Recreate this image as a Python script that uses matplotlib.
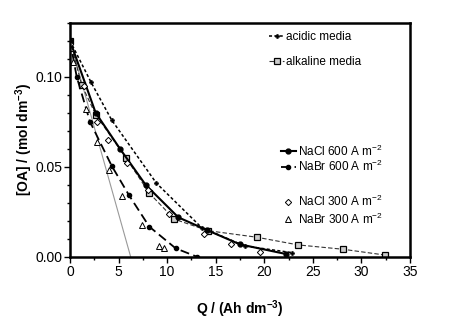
import matplotlib
matplotlib.use("Agg")
import matplotlib.pyplot as plt
from matplotlib.ticker import MultipleLocator

plt.rcParams['font.family'] = ['Liberation Sans', 'DejaVu Sans']
plt.rcParams['mathtext.fontset'] = 'custom'
plt.rcParams['mathtext.rm'] = 'Liberation Sans'
plt.rcParams['mathtext.bf'] = 'Liberation Sans:bold'

# ---- data ----
acid_x = [0, 2.16, 4.29, 8.89, 13.55, 18.0, 22.9]
acid_y = [0.120, 0.097, 0.076, 0.041, 0.0163, 0.0061, 0.0024]

alk_x = [0, 1.2, 2.64, 5.76, 8.17, 10.74, 14.2, 19.2, 23.5, 28.1, 32.4]
alk_y = [0.120, 0.0955, 0.079, 0.055, 0.0354, 0.021, 0.0146, 0.0110, 0.0067, 0.0043, 0.0011]

nacl600_x = [0, 2.64, 5.15, 7.79, 11.15, 14.07, 17.5, 22.2]
nacl600_y = [0.120, 0.080, 0.060, 0.040, 0.022, 0.015, 0.007, 0.0017]

nabr600_x = [0, 0.69, 2.06, 4.29, 6.07, 8.17, 10.88, 13.04]
nabr600_y = [0.120, 0.100, 0.075, 0.0506, 0.0343, 0.0168, 0.0048, 0.0002]

nacl300_x = [0, 1.44, 2.8, 3.95, 5.9, 8.0, 10.2, 13.8, 16.6, 19.6]
nacl300_y = [0.118, 0.095, 0.075, 0.065, 0.052, 0.037, 0.0237, 0.013, 0.007, 0.0026]

nabr300_x = [0, 0.34, 1.65, 2.75, 4.05, 5.39, 7.38, 9.16, 9.68]
nabr300_y = [0.116, 0.108, 0.082, 0.064, 0.048, 0.034, 0.018, 0.0063, 0.0048]

fit_x = [0, 6.25]
fit_y = [0.120, 0.0]

xticks = [0, 5, 10, 15, 20, 25, 30, 35]
yticks = [0.00, 0.05, 0.10]

fig = plt.figure(figsize=(4.5, 3.21), dpi=100)
ax = fig.add_axes([70/450, 1-257/321, 340/450, 234.3/321])

ax.plot(fit_x, fit_y, color='#999999', lw=0.8, zorder=1)
l_acid, = ax.plot(acid_x, acid_y, ls=(0, (2, 1.5)), color='black', lw=1.1,
                  marker='P', ms=3, mfc='black', mec='black', mew=0.4, label='acidic media')
l_alk, = ax.plot(alk_x, alk_y, ls=(0, (4, 2)), color='#333333', lw=0.8,
                 marker='s', ms=4, mfc='#cccccc', mec='black', mew=0.9, label='alkaline media')
l_nacl6, = ax.plot(nacl600_x, nacl600_y, ls='-', color='black', lw=1.5,
                   marker='o', ms=3.5, mfc='black', mec='black', label='NaCl 600 A m$^{-2}$')
l_nabr6, = ax.plot(nabr600_x, nabr600_y, ls=(0, (5, 2.5)), color='black', lw=1.3,
                   marker='o', ms=3, mfc='black', mec='black', label='NaBr 600 A m$^{-2}$')
l_nacl3, = ax.plot(nacl300_x, nacl300_y, ls='none', marker='D', ms=3.2,
                   mfc='white', mec='black', mew=0.7, label='NaCl 300 A m$^{-2}$')
l_nabr3, = ax.plot(nabr300_x, nabr300_y, ls='none', marker='^', ms=4,
                   mfc='white', mec='black', mew=0.7, label='NaBr 300 A m$^{-2}$')

ax.set_xlim(0, 35)
ax.set_ylim(0, 0.130)
ax.set_xticks(xticks)
ax.set_yticks(yticks)
ax.set_yticklabels([f"{v:.2f}" for v in yticks])
ax.xaxis.set_minor_locator(MultipleLocator(2.5))
ax.yaxis.set_minor_locator(MultipleLocator(0.01))
ax.tick_params(which='both', direction='out', top=False, right=False, labelsize=10, width=1.0)
ax.tick_params(which='major', length=4, pad=1.5)
ax.tick_params(which='minor', length=2.5)
for s in ax.spines.values():
    s.set_linewidth(1.8)

ax.set_xlabel('Q / (Ah dm$^{\\mathbf{-3}}$)', fontsize=10, fontweight='bold', labelpad=14)
ax.set_ylabel('[OA] / (mol dm$^{\\mathbf{-3}}$)', fontsize=10, fontweight='bold', labelpad=0)

common = dict(frameon=False, fontsize=8.5, handletextpad=0.15, borderpad=0,
              borderaxespad=0, loc='upper left')
leg1 = ax.legend(handles=[l_acid, l_alk], bbox_to_anchor=(0.585, 0.965),
                 handlelength=1.3, labelspacing=1.1, **common)
ax.add_artist(leg1)
leg2 = ax.legend(handles=[l_nacl6, l_nabr6], bbox_to_anchor=(0.62, 0.485),
                 handlelength=1.3, labelspacing=0.0, **common)
ax.add_artist(leg2)
leg3 = ax.legend(handles=[l_nacl3, l_nabr3], bbox_to_anchor=(0.62, 0.27),
                 handlelength=1.3, labelspacing=0.2, **common)

fig.savefig('out.png', dpi=100)
